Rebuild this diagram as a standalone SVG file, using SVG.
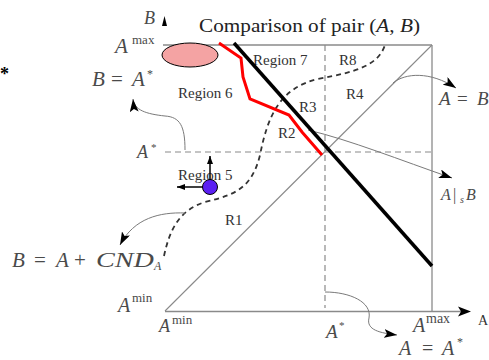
<svg xmlns="http://www.w3.org/2000/svg" width="489" height="360" viewBox="0 0 489 360">
<style>
.m{font-family:"Liberation Serif","Times New Roman","DejaVu Serif",serif;font-style:italic;fill:#4a4a4a}
.u{font-family:"Liberation Serif","Times New Roman","DejaVu Serif",serif;fill:#4a4a4a}
.r{font-family:"Liberation Serif","Times New Roman","DejaVu Serif",serif;font-size:15px;fill:#333}
.box{fill:none;stroke:#8a8a8a;stroke-width:1.3}
.dash{fill:none;stroke:#8a8a8a;stroke-width:1.2;stroke-dasharray:6 4}
.conn{fill:none;stroke:#7a7a7a;stroke-width:1}
.ah{fill:#000}
</style>
<defs>
<marker id="arr" viewBox="0 0 13 9" refX="13" refY="4.5" markerWidth="13" markerHeight="9" orient="auto" markerUnits="userSpaceOnUse"><path d="M0,0 L13,4.5 L0,9 L3,4.5 z" fill="#000"/></marker>
<marker id="arrs" viewBox="0 0 8 6" refX="8" refY="3" markerWidth="8" markerHeight="6" orient="auto" markerUnits="userSpaceOnUse"><path d="M0,0 L8,3 L0,6 z" fill="#000"/></marker>
</defs>
<rect width="489" height="360" fill="#fff"/>

<g id="star"><text class="u" x="0" y="80" font-size="18" style="fill:#000;font-weight:bold">*</text></g>

<g id="title"><text class="u" x="199" y="32" font-size="18" style="fill:#222" textLength="221" lengthAdjust="spacingAndGlyphs">Comparison of pair (<tspan font-style="italic">A</tspan>, <tspan font-style="italic">B</tspan>)</text></g>

<g id="axes">
<line class="box" x1="163" y1="45" x2="432" y2="45"/>
<line class="box" x1="432" y1="45" x2="432" y2="311"/>
<line x1="165" y1="311.5" x2="462" y2="311.5" stroke="#8a8a8a" stroke-width="1.6"/>
<path class="ah" d="M471,311.5 L458,306.5 L461,311.5 L458,316.5 z"/>
<path class="ah" d="M164.5,16 L162,26 L167,26 z"/>
<line x1="165" y1="311" x2="432" y2="45" stroke="#8a8a8a" stroke-width="1.1"/>
<line class="dash" x1="165" y1="152" x2="432" y2="152"/>
<line class="dash" x1="325" y1="45" x2="325" y2="308"/>
<text class="m" x="144" y="24" font-size="18">B</text>
<text class="u" x="478" y="325" font-size="14" style="fill:#333">A</text>
</g>

<g id="axis-labels">
<text class="m" x="115" y="53" font-size="21">A</text><text class="u" x="132" y="44" font-size="13">max</text>
<text class="m" x="137" y="158" font-size="18">A</text><text class="u" x="151" y="151" font-size="11">*</text>
<text class="m" x="118" y="312" font-size="20">A</text><text class="u" x="132" y="302" font-size="13">min</text>
<text class="m" x="159" y="332" font-size="18">A</text><text class="u" x="172" y="324" font-size="13">min</text>
<text class="m" x="326" y="338" font-size="19">A</text><text class="u" x="339" y="329" font-size="11">*</text>
<text class="m" x="413" y="332" font-size="20">A</text><text class="u" x="426" y="323" font-size="14">max</text>
</g>

<g id="eq-b-astar">
<text class="m" x="92" y="86" font-size="21">B</text><text class="u" x="111" y="86" font-size="21">=</text><text class="m" x="132" y="86" font-size="21">A</text><text class="u" x="147" y="78" font-size="12">*</text>
</g>
<g id="eq-a-b"><text class="m" x="439" y="105" font-size="19">A</text><text class="u" x="457" y="105" font-size="19">=</text><text class="m" x="477" y="105" font-size="19">B</text></g>
<g id="eq-as-b"><text class="m" x="441" y="200" font-size="16">A</text><text class="u" x="453" y="200" font-size="16">|</text><text class="m" x="460" y="203" font-size="10">s</text><text class="m" x="466" y="200" font-size="16">B</text></g>
<g id="eq-cnd">
<text class="m" x="12" y="267" font-size="21">B</text><text class="u" x="34" y="267" font-size="21">=</text><text class="m" x="56" y="267" font-size="21">A</text><text class="u" x="74" y="267" font-size="21">+</text><text class="m" x="96" y="267" font-size="21" textLength="58" lengthAdjust="spacingAndGlyphs">CND</text><text class="m" x="154" y="270" font-size="12">A</text>
</g>
<g id="eq-a-astar">
<text class="m" x="399" y="355" font-size="20">A</text><text class="u" x="422" y="355" font-size="20">=</text><text class="m" x="442" y="355" font-size="20">A</text><text class="u" x="457" y="346" font-size="12">*</text>
</g>

<g id="regions">
<text class="r" x="178" y="98">Region 6</text>
<text class="r" x="253" y="65">Region 7</text>
<text class="r" x="339" y="65">R8</text>
<text class="r" x="346" y="99">R4</text>
<text class="r" x="299" y="112">R3</text>
<text class="r" x="278" y="138">R2</text>
<text class="r" x="178" y="180">Region 5</text>
<text class="r" x="225" y="225">R1</text>
</g>

<g id="connectors">
<path d="M164,256 C170,228 180,210 205,202 C235,195 252,188 260,155 C268,115 280,88 318,79 C355,72 378,66 385,45" fill="none" stroke="#333" stroke-width="1.8" stroke-dasharray="5 4"/>
<path class="conn" d="M185,150 C185,126 180,117 165,116 C146,114 134,110 133,99" marker-end="url(#arr)" />
<path class="conn" d="M393,83 C405,73 430,71 456,88" marker-end="url(#arr)"/>
<path class="conn" d="M308,130 C350,140 400,160 452,178" marker-end="url(#arr)"/>
<path class="conn" d="M185,213 C160,212 134,218 120,245" marker-end="url(#arr)"/>
<path class="conn" d="M325,292 C350,292 372,302 369,318 C366,330 380,333 397,335" marker-end="url(#arr)"/>
</g>

<g id="black-line"><line x1="234" y1="43" x2="432" y2="266" stroke="#000" stroke-width="3.5"/></g>
<g id="red-line"><polyline points="219,43 241,58 243,77 250,99 289,115 302,132 322,155" fill="none" stroke="#f00" stroke-width="3"/></g>
<g id="ellipse"><ellipse cx="190" cy="55" rx="28" ry="12" fill="#f4a3a3" stroke="#000" stroke-width="1"/></g>
<g id="point">
<line x1="210" y1="187" x2="210" y2="156" stroke="#000" stroke-width="1.5" marker-end="url(#arrs)"/>
<line x1="210" y1="187" x2="177" y2="187" stroke="#000" stroke-width="1.5" marker-end="url(#arrs)"/>
<circle cx="210" cy="187" r="7.5" fill="#5b1ff2" stroke="#000" stroke-width="1"/>
</g>
</svg>
